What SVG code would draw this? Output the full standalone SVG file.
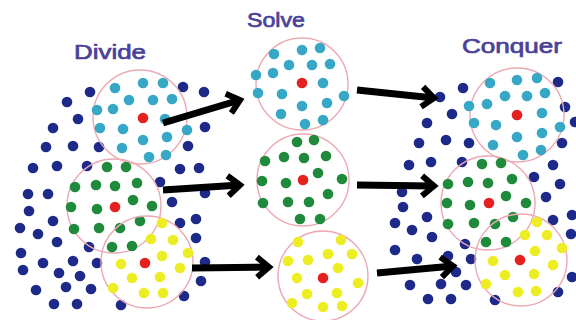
<svg xmlns="http://www.w3.org/2000/svg" width="576" height="320" viewBox="0 0 576 320">
  <style>
    .lbl { font-family: "Liberation Sans", Arial, sans-serif; font-size: 21px; font-weight: normal; fill: #4a4199; stroke: #4a4199; stroke-width: 0.7; }
    .ring { fill: none; stroke: #eba9b3; stroke-width: 1.4; }
    .b { fill: #1d2a8a; }
    .c { fill: #36a8c6; }
    .g { fill: #1f8a3c; }
    .y { fill: #eded24; }
    .r { fill: #e4211f; }
    .arrow { stroke: #000; stroke-width: 7; fill: none; marker-end: url(#head); }
  </style>
  <defs>
    <marker id="head" viewBox="-2 -2 28 28" refX="16" refY="12" markerWidth="28" markerHeight="28" markerUnits="userSpaceOnUse" orient="auto">
      <path d="M4,2 L16,12 L4,22" fill="none" stroke="#000" stroke-width="6"/>
    </marker>
  </defs>
  <rect width="576" height="320" fill="#fff"/>

  <!-- column titles -->
  <g id="titles">
    <text class="lbl" x="74" y="59" textLength="72" lengthAdjust="spacingAndGlyphs">Divide</text>
    <text class="lbl" x="247" y="27" textLength="58" lengthAdjust="spacingAndGlyphs">Solve</text>
    <text class="lbl" x="462" y="53" textLength="100" lengthAdjust="spacingAndGlyphs">Conquer</text>
  </g>

  <!-- left: whole problem split into three sub-groups -->
  <g id="divide-field">
    <g class="b">
      <circle cx="90" cy="92" r="5.3"/><circle cx="67" cy="102" r="5.3"/><circle cx="78" cy="119" r="5.3"/>
      <circle cx="53" cy="128" r="5.3"/><circle cx="46" cy="147" r="5.3"/><circle cx="73" cy="146" r="5.3"/>
      <circle cx="99" cy="147" r="5.3"/><circle cx="33" cy="168" r="5.3"/><circle cx="57" cy="166" r="5.3"/>
      <circle cx="87" cy="166" r="5.3"/><circle cx="183" cy="87" r="5.3"/><circle cx="188" cy="146" r="5.3"/>
      <circle cx="180" cy="169" r="5.3"/><circle cx="199" cy="168" r="5.3"/><circle cx="204" cy="92" r="5.3"/>
      <circle cx="205" cy="127" r="5.3"/>
      <circle cx="28" cy="194" r="5.3"/><circle cx="48" cy="194" r="5.3"/><circle cx="29" cy="211" r="5.3"/>
      <circle cx="53" cy="221" r="5.3"/><circle cx="20" cy="228" r="5.3"/><circle cx="38" cy="234" r="5.3"/>
      <circle cx="57" cy="242" r="5.3"/><circle cx="89" cy="247" r="5.3"/><circle cx="21" cy="253" r="5.3"/>
      <circle cx="43" cy="263" r="5.3"/><circle cx="73" cy="261" r="5.3"/><circle cx="97" cy="263" r="5.3"/>
      <circle cx="23" cy="270" r="5.3"/><circle cx="59" cy="273" r="5.3"/><circle cx="80" cy="276" r="5.3"/>
      <circle cx="36" cy="290" r="5.3"/><circle cx="66" cy="287" r="5.3"/><circle cx="91" cy="289" r="5.3"/>
      <circle cx="54" cy="304" r="5.3"/><circle cx="77" cy="304" r="5.3"/><circle cx="121" cy="305" r="5.3"/>
      <circle cx="160" cy="182" r="5.3"/><circle cx="172" cy="202" r="5.3"/><circle cx="180" cy="223" r="5.3"/>
      <circle cx="196" cy="219" r="5.3"/><circle cx="205" cy="193" r="5.3"/><circle cx="196" cy="238" r="5.3"/>
      <circle cx="205" cy="262" r="5.3"/><circle cx="201" cy="281" r="5.3"/><circle cx="184" cy="296" r="5.3"/>
    </g>
  </g>
  <g id="divide-cyan">
    <circle class="ring" cx="140" cy="117" r="47"/>
    <g class="c">
      <circle cx="115" cy="88" r="5.3"/><circle cx="143" cy="83" r="5.3"/><circle cx="163" cy="83" r="5.3"/>
      <circle cx="129" cy="100" r="5.3"/><circle cx="153" cy="100" r="5.3"/><circle cx="172" cy="99" r="5.3"/>
      <circle cx="97" cy="110" r="5.3"/><circle cx="113" cy="109" r="5.3"/><circle cx="165" cy="119" r="5.3"/>
      <circle cx="100" cy="128" r="5.3"/><circle cx="123" cy="129" r="5.3"/><circle cx="143" cy="140" r="5.3"/>
      <circle cx="167" cy="137" r="5.3"/><circle cx="187" cy="130" r="5.3"/><circle cx="122" cy="148" r="5.3"/>
      <circle cx="149" cy="157" r="5.3"/><circle cx="166" cy="155" r="5.3"/>
    </g>
    <circle class="r" cx="143" cy="118" r="5.3"/>
  </g>
  <g id="divide-green">
    <circle class="ring" cx="114" cy="206" r="47"/>
    <g class="g">
      <circle cx="107" cy="167" r="5.3"/><circle cx="126" cy="167" r="5.3"/><circle cx="75" cy="187" r="5.3"/>
      <circle cx="96" cy="185" r="5.3"/><circle cx="115" cy="186" r="5.3"/><circle cx="137" cy="183" r="5.3"/>
      <circle cx="71" cy="207" r="5.3"/><circle cx="97" cy="209" r="5.3"/><circle cx="133" cy="200" r="5.3"/>
      <circle cx="152" cy="206" r="5.3"/><circle cx="74" cy="229" r="5.3"/><circle cx="99" cy="228" r="5.3"/>
      <circle cx="120" cy="228" r="5.3"/><circle cx="140" cy="221" r="5.3"/><circle cx="112" cy="247" r="5.3"/>
      <circle cx="132" cy="246" r="5.3"/>
    </g>
    <circle class="r" cx="115" cy="207" r="5.3"/>
  </g>
  <g id="divide-yellow">
    <circle class="ring" cx="147" cy="262" r="46"/>
    <g class="y">
      <circle cx="151" cy="239" r="5.3"/><circle cx="173" cy="240" r="5.3"/><circle cx="162" cy="256" r="5.3"/>
      <circle cx="188" cy="253" r="5.3"/><circle cx="121" cy="264" r="5.3"/><circle cx="180" cy="268" r="5.3"/>
      <circle cx="132" cy="278" r="5.3"/><circle cx="160" cy="277" r="5.3"/><circle cx="113" cy="288" r="5.3"/>
      <circle cx="144" cy="293" r="5.3"/><circle cx="163" cy="293" r="5.3"/><circle cx="162" cy="223" r="5.3"/>
    </g>
    <circle class="r" cx="145" cy="263" r="5.3"/>
  </g>

  <!-- middle: each sub-group solved on its own -->
  <g id="solve-cyan">
    <circle class="ring" cx="302" cy="84" r="46"/>
    <g class="c">
      <circle cx="274" cy="54" r="5.3"/><circle cx="302" cy="50" r="5.3"/><circle cx="320" cy="48" r="5.3"/>
      <circle cx="289" cy="65" r="5.3"/><circle cx="312" cy="65" r="5.3"/><circle cx="330" cy="64" r="5.3"/>
      <circle cx="256" cy="75" r="5.3"/><circle cx="273" cy="73" r="5.3"/><circle cx="323" cy="83" r="5.3"/>
      <circle cx="258" cy="93" r="5.3"/><circle cx="282" cy="94" r="5.3"/><circle cx="302" cy="106" r="5.3"/>
      <circle cx="327" cy="103" r="5.3"/><circle cx="344" cy="96" r="5.3"/><circle cx="281" cy="114" r="5.3"/>
      <circle cx="305" cy="124" r="5.3"/><circle cx="323" cy="120" r="5.3"/>
    </g>
    <circle class="r" cx="302" cy="83" r="5.3"/>
  </g>
  <g id="solve-green">
    <circle class="ring" cx="303" cy="180" r="46"/>
    <g class="g">
      <circle cx="297" cy="142" r="5.3"/><circle cx="314" cy="140" r="5.3"/><circle cx="265" cy="161" r="5.3"/>
      <circle cx="284" cy="157" r="5.3"/><circle cx="304" cy="158" r="5.3"/><circle cx="326" cy="156" r="5.3"/>
      <circle cx="318" cy="173" r="5.3"/><circle cx="262" cy="181" r="5.3"/><circle cx="286" cy="183" r="5.3"/>
      <circle cx="342" cy="179" r="5.3"/><circle cx="328" cy="194" r="5.3"/><circle cx="263" cy="203" r="5.3"/>
      <circle cx="288" cy="202" r="5.3"/><circle cx="309" cy="202" r="5.3"/><circle cx="300" cy="219" r="5.3"/>
      <circle cx="320" cy="219" r="5.3"/>
    </g>
    <circle class="r" cx="303" cy="180" r="5.3"/>
  </g>
  <g id="solve-yellow">
    <circle class="ring" cx="323" cy="276" r="45"/>
    <g class="y">
      <circle cx="298" cy="242" r="5.3"/><circle cx="341" cy="240" r="5.3"/><circle cx="328" cy="254" r="5.3"/>
      <circle cx="352" cy="254" r="5.3"/><circle cx="288" cy="261" r="5.3"/><circle cx="308" cy="260" r="5.3"/>
      <circle cx="338" cy="268" r="5.3"/><circle cx="297" cy="278" r="5.3"/><circle cx="358" cy="283" r="5.3"/>
      <circle cx="307" cy="294" r="5.3"/><circle cx="337" cy="293" r="5.3"/><circle cx="292" cy="303" r="5.3"/>
      <circle cx="323" cy="307" r="5.3"/><circle cx="342" cy="306" r="5.3"/>
    </g>
    <circle class="r" cx="323" cy="278" r="5.3"/>
  </g>

  <!-- right: solved sub-groups merged back -->
  <g id="conquer-field">
    <g class="b">
      <circle cx="463" cy="88" r="5.3"/><circle cx="440" cy="97" r="5.3"/><circle cx="452" cy="114" r="5.3"/>
      <circle cx="427" cy="123" r="5.3"/><circle cx="419" cy="143" r="5.3"/><circle cx="446" cy="140" r="5.3"/>
      <circle cx="469" cy="143" r="5.3"/><circle cx="409" cy="165" r="5.3"/><circle cx="431" cy="162" r="5.3"/>
      <circle cx="462" cy="162" r="5.3"/><circle cx="558" cy="82" r="5.3"/><circle cx="565" cy="107" r="5.3"/>
      <circle cx="562" cy="143" r="5.3"/><circle cx="553" cy="165" r="5.3"/><circle cx="575" cy="122" r="5.3"/>
      <circle cx="534" cy="177" r="5.3"/><circle cx="560" cy="184" r="5.3"/><circle cx="546" cy="197" r="5.3"/>
      <circle cx="553" cy="220" r="5.3"/><circle cx="572" cy="215" r="5.3"/><circle cx="571" cy="234" r="5.3"/>
      <circle cx="572" cy="277" r="5.3"/><circle cx="558" cy="292" r="5.3"/>
      <circle cx="402" cy="192" r="5.3"/><circle cx="403" cy="207" r="5.3"/><circle cx="427" cy="217" r="5.3"/>
      <circle cx="395" cy="223" r="5.3"/><circle cx="412" cy="230" r="5.3"/><circle cx="432" cy="237" r="5.3"/>
      <circle cx="465" cy="244" r="5.3"/><circle cx="395" cy="250" r="5.3"/><circle cx="417" cy="259" r="5.3"/>
      <circle cx="448" cy="256" r="5.3"/><circle cx="471" cy="259" r="5.3"/><circle cx="456" cy="272" r="5.3"/>
      <circle cx="410" cy="285" r="5.3"/><circle cx="441" cy="284" r="5.3"/><circle cx="466" cy="285" r="5.3"/>
      <circle cx="428" cy="299" r="5.3"/><circle cx="451" cy="299" r="5.3"/><circle cx="495" cy="300" r="5.3"/>
    </g>
  </g>
  <g id="conquer-cyan">
    <circle class="ring" cx="517" cy="115" r="47"/>
    <g class="c">
      <circle cx="490" cy="83" r="5.3"/><circle cx="517" cy="80" r="5.3"/><circle cx="537" cy="78" r="5.3"/>
      <circle cx="505" cy="96" r="5.3"/><circle cx="527" cy="96" r="5.3"/><circle cx="545" cy="93" r="5.3"/>
      <circle cx="469" cy="106" r="5.3"/><circle cx="487" cy="104" r="5.3"/><circle cx="542" cy="113" r="5.3"/>
      <circle cx="474" cy="123" r="5.3"/><circle cx="496" cy="125" r="5.3"/><circle cx="517" cy="137" r="5.3"/>
      <circle cx="542" cy="133" r="5.3"/><circle cx="560" cy="127" r="5.3"/><circle cx="493" cy="145" r="5.3"/>
      <circle cx="523" cy="155" r="5.3"/><circle cx="541" cy="150" r="5.3"/>
    </g>
    <circle class="r" cx="517" cy="115" r="5.3"/>
  </g>
  <g id="conquer-green">
    <circle class="ring" cx="488" cy="203" r="47"/>
    <g class="g">
      <circle cx="482" cy="164" r="5.3"/><circle cx="501" cy="163" r="5.3"/><circle cx="448" cy="184" r="5.3"/>
      <circle cx="468" cy="182" r="5.3"/><circle cx="488" cy="183" r="5.3"/><circle cx="512" cy="179" r="5.3"/>
      <circle cx="447" cy="203" r="5.3"/><circle cx="470" cy="205" r="5.3"/><circle cx="506" cy="196" r="5.3"/>
      <circle cx="526" cy="203" r="5.3"/><circle cx="448" cy="224" r="5.3"/><circle cx="474" cy="223" r="5.3"/>
      <circle cx="495" cy="224" r="5.3"/><circle cx="513" cy="217" r="5.3"/><circle cx="486" cy="242" r="5.3"/>
      <circle cx="506" cy="242" r="5.3"/>
    </g>
    <circle class="r" cx="489" cy="203" r="5.3"/>
  </g>
  <g id="conquer-yellow">
    <circle class="ring" cx="521" cy="260" r="46"/>
    <g class="y">
      <circle cx="525" cy="235" r="5.3"/><circle cx="547" cy="235" r="5.3"/><circle cx="535" cy="251" r="5.3"/>
      <circle cx="562" cy="248" r="5.3"/><circle cx="493" cy="261" r="5.3"/><circle cx="553" cy="265" r="5.3"/>
      <circle cx="505" cy="275" r="5.3"/><circle cx="534" cy="274" r="5.3"/><circle cx="486" cy="284" r="5.3"/>
      <circle cx="518" cy="292" r="5.3"/><circle cx="536" cy="291" r="5.3"/><circle cx="537" cy="222" r="5.3"/>
    </g>
    <circle class="r" cx="520" cy="260" r="5.3"/>
  </g>

  <!-- connectors -->
  <g id="connectors">
    <path class="arrow" d="M163,123 L240,100"/>
    <path class="arrow" d="M357,90 L434,98"/>
    <path class="arrow" d="M163,190 L240,185"/>
    <path class="arrow" d="M357,185 L434,186"/>
    <path class="arrow" d="M192,268 L269,267"/>
    <path class="arrow" d="M377,273 L453,266"/>
  </g>
</svg>
